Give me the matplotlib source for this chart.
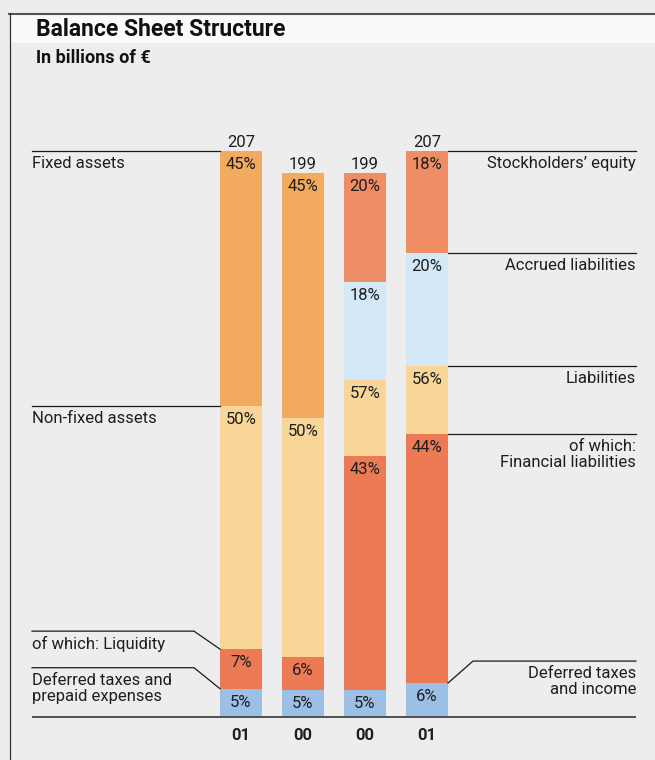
import matplotlib
matplotlib.use("Agg")
import matplotlib.pyplot as plt
from matplotlib.patches import Rectangle
from matplotlib.lines import Line2D
from matplotlib.transforms import offset_copy

plt.rcParams['font.family'] = ['Roboto', 'DejaVu Sans']

# data (billions of EUR, shares in %)
years = ['01', '00', '00', '01']
totals = [207, 199, 199, 207]
# segments listed bottom to top
shares = [
    [5, 7, 43, 45],        # assets 2001: deferred, liquidity, other non-fixed, fixed
    [5, 6, 44, 45],        # assets 2000
    [5, 43, 14, 18, 20],   # equity & liab. 2000: deferred, financial, other liab., accrued, equity
    [6, 44, 12, 20, 18],   # equity & liab. 2001
]
seg_labels = [
    ['5%', '7%', '50%', '45%'],
    ['5%', '6%', '50%', '45%'],
    ['5%', '43%', '57%', '18%', '20%'],
    ['6%', '44%', '56%', '20%', '18%'],
]
left_names = ['Fixed assets', 'Non-fixed assets', 'of which: Liquidity',
              'Deferred taxes and\nprepaid expenses']
right_names = ["Stockholders\u2019 equity", 'Accrued liabilities', 'Liabilities',
               'of which:\nFinancial liabilities', 'Deferred taxes\nand income']

c_fixed = '#f2aa5f'
c_light = '#f9d597'
c_red = '#ec7a55'
c_salmon = '#ef8e65'
c_blue = '#9cbfe6'
c_lblue = '#d3e9f8'
seg_colors = [
    [c_blue, c_red, c_light, c_fixed],
    [c_blue, c_red, c_light, c_fixed],
    [c_blue, c_red, c_light, c_lblue, c_salmon],
    [c_blue, c_red, c_light, c_lblue, c_salmon],
]

bg = '#ededed'
txt = '#1e1e1e'
W, H = 655, 760
px = 2.732          # pixels per billion
base = 717          # baseline pixel row from top

fig = plt.figure(figsize=(W / 100, H / 100), dpi=100, facecolor=bg)
ax = fig.add_axes([0, 0, 1, 1])
ax.set_xlim(0, W)
ax.set_ylim(-(H - base) / px, base / px)
ax.axis('off')

# frame and title band
fig.patches.append(Rectangle((10 / W, 1 - 43 / H), 1, 29 / H, transform=fig.transFigure,
                             facecolor='#fafafa', edgecolor='none', zorder=0))
fig.lines.append(Line2D([9 / W, 1], [1 - 13.5 / H, 1 - 13.5 / H], transform=fig.transFigure,
                        color='#555555', lw=1.5))
fig.lines.append(Line2D([9.5 / W, 9.5 / W], [0, 1 - 13 / H], transform=fig.transFigure,
                        color='#333333', lw=0.9))
fig.text(36 / W, 1 - 36 / H, 'Balance Sheet Structure', fontsize=16.5, fontweight='bold',
         va='baseline', color='#111111')
fig.text(36 / W, 1 - 63 / H, 'In billions of \u20ac', fontsize=13, fontweight='bold',
         va='baseline', color='#111111')

centers = [241, 303, 365, 427]
bw = 42
below = offset_copy(ax.transData, fig=fig, y=-6, units='dots')
above = offset_copy(ax.transData, fig=fig, y=4, units='dots')

tops = []
for i in range(4):
    bottom = 0
    cum = []
    for j, s in enumerate(shares[i]):
        h = totals[i] * s / 100
        ax.bar(centers[i], h, width=bw, bottom=bottom, color=seg_colors[i][j], linewidth=0)
        bottom += h
        cum.append(bottom)
    tops.append(cum)
    # percent labels at the top of each segment (non-fixed / liabilities label spans two parts)
    for j, lab in enumerate(seg_labels[i]):
        ax.text(centers[i], cum[j], lab, transform=below, ha='center', va='top',
                fontsize=12, color=txt)
    ax.text(centers[i], totals[i], str(totals[i]), transform=above, ha='center',
            va='baseline', fontsize=12, color=txt)
    ax.text(centers[i], -(736 - base) / px, years[i], ha='center', va='center',
            fontsize=12, fontweight='bold', color=txt)

# baseline
ax.plot([32, 636], [0, 0], color='#444444', lw=1.3, solid_capstyle='butt')

lc = '#1a1a1a'
lw = 0.9
x_l0, x_l1 = 32, centers[0] - bw / 2
x_r0, x_r1 = centers[3] + bw / 2, 636
label_off = offset_copy(ax.transData, fig=fig, y=-5, units='dots')

# left side: fixed assets and non-fixed assets
for name, y in [(left_names[0], tops[0][3]), (left_names[1], tops[0][2])]:
    ax.plot([x_l0, x_l1], [y, y], color=lc, lw=lw)
    ax.text(x_l0, y, name, transform=label_off, ha='left', va='top', fontsize=12, color=txt)

# left side: liquidity and deferred taxes with bent leaders
for name, y, rise in [(left_names[2], tops[0][1], 18), (left_names[3], tops[0][0], 21)]:
    yh = y + rise / px
    ax.plot([x_l0, x_l1 - 26, x_l1], [yh, yh, y], color=lc, lw=lw)
    ax.text(x_l0, yh, name, transform=label_off, ha='left', va='top', fontsize=12,
            color=txt, linespacing=1.1)

# right side
for name, y in zip(right_names[:4], [tops[3][4], tops[3][3], tops[3][2], tops[3][1]]):
    ax.plot([x_r0, x_r1], [y, y], color=lc, lw=lw)
    ax.text(x_r1, y, name, transform=label_off, ha='right', va='top', fontsize=12,
            color=txt, linespacing=1.1)

y = tops[3][0]
yh = y + 22 / px
ax.plot([x_r0, x_r0 + 25, x_r1], [y, yh, yh], color=lc, lw=lw)
ax.text(x_r1, yh, right_names[4], transform=label_off, ha='right', va='top', fontsize=12,
        color=txt, linespacing=1.1)

fig.savefig('out.png', dpi=100, facecolor=bg)
